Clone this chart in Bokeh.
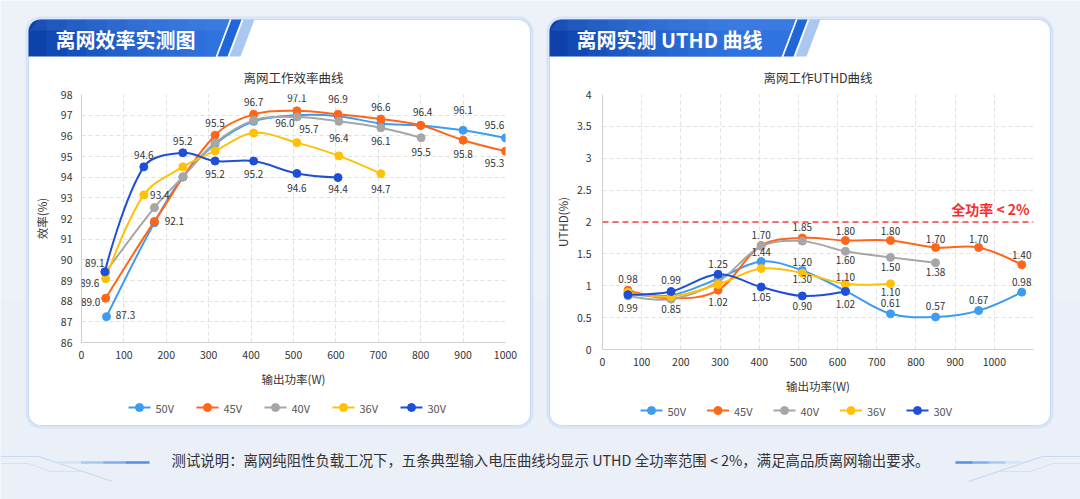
import math
from bokeh.plotting import figure
from bokeh.models import (Range1d, FixedTicker, Label, LabelSet,
                          Span, ColumnDataSource, NumeralTickFormatter)
from bokeh.embed import file_html
from bokeh.resources import INLINE
from bokeh.core.properties import value

FONT = "Noto Sans CJK SC"
BG = "#edf1f8"

SERIES = ["50V", "45V", "40V", "36V", "30V"]
COLORS = ["#3d9cf0", "#ff6619", "#a6a6a6", "#ffc107", "#1f4fd6"]

# ---------------- efficiency chart data ----------------
eff_x_50V = [59, 172, 239, 315, 406, 508, 605, 706, 800, 900, 1000]
eff_y_50V = [87.25, 91.8, 94.0, 95.6, 96.7, 97.0, 96.95, 96.6, 96.5, 96.27, 95.9]
eff_t_50V = ["87.3", "", "", "", "", "", "", "", "", "96.1", "95.6"]
eff_x_45V = [57, 172, 315, 406, 508, 605, 706, 800, 900, 1000]
eff_y_45V = [88.14, 91.86, 96.03, 97.04, 97.21, 97.04, 96.81, 96.51, 95.79, 95.26]
eff_t_45V = ["89.0", "92.1", "95.5", "96.7", "97.1", "96.9", "96.6", "96.4", "95.8", "95.3"]
eff_x_40V = [57, 172, 240, 315, 406, 508, 607, 706, 801]
eff_y_40V = [89.4, 92.53, 94.03, 95.66, 96.75, 96.91, 96.70, 96.39, 95.91]
eff_t_40V = ["", "", "", "", "", "96.0", "96.4", "96.1", "95.5"]
eff_x_36V = [57, 147, 239, 315, 406, 508, 607, 706]
eff_y_36V = [89.09, 93.14, 94.5, 95.27, 96.14, 95.67, 95.03, 94.17]
eff_t_36V = ["89.6", "93.4", "", "", "", "95.7", "", "94.7"]
eff_x_30V = [55, 147, 239, 315, 406, 508, 605]
eff_y_30V = [89.42, 94.5, 95.18, 94.78, 94.78, 94.18, 93.98]
eff_t_30V = ["89.1", "94.6", "95.2", "95.2", "95.2", "94.6", "94.4"]
eff_xticks = list(range(0, 1001, 100))
eff_yticks = list(range(86, 99))

# label placement in screen px (x right, y up) -- style only
eff_dx = {"50V": [19, 0, 0, 0, 0, 0, 0, 0, 0, 0, -11],
          "45V": [-15, 20, 0, 0, 0, 0, 0, 2, 0, -11],
          "40V": [0, 0, 0, 0, 0, -12, 0, 0, 0],
          "36V": [-16, 16, 0, 0, 0, 12, 0, 0],
          "30V": [-10, 0, 0, 0, 0, 0, 0]}
eff_dy = {"50V": [2, 0, 0, 0, 0, 0, 0, 0, 0, 20, 13],
          "45V": [-4, 0, 12, 12, 13, 15, 12, 13, -14, -12],
          "40V": [0, 0, 0, 0, 0, -6, -17, -13, -14],
          "36V": [-4, 0, 0, 0, 0, 14, 0, -15],
          "30V": [9, 12, 12, -13, -13, -15, -11]}

# ---------------- UTHD chart data ----------------
u_x_50V = [65, 175, 295, 405, 510, 620, 735, 850, 960, 1070]
u_y_50V = [0.88, 0.85, 1.11, 1.38, 1.24, 0.92, 0.56, 0.51, 0.61, 0.90]
u_t_50V = ["", "", "", "1.44", "1.20", "", "0.61", "0.57", "0.67", "0.98"]
u_x_45V = [65, 175, 295, 405, 510, 620, 735, 850, 960, 1070]
u_y_45V = [0.93, 0.80, 0.93, 1.63, 1.75, 1.71, 1.71, 1.60, 1.60, 1.33]
u_t_45V = ["0.98", "0.85", "1.02", "1.70", "1.85", "1.80", "1.80", "1.70", "1.70", "1.40"]
u_x_40V = [65, 175, 295, 405, 510, 620, 735, 850]
u_y_40V = [0.84, 0.79, 1.06, 1.62, 1.70, 1.54, 1.445, 1.36]
u_t_40V = ["", "", "", "", "", "1.60", "1.50", "1.38"]
u_x_36V = [65, 175, 295, 405, 510, 620, 735]
u_y_36V = [0.90, 0.83, 1.02, 1.27, 1.20, 1.03, 1.03]
u_t_36V = ["", "", "", "", "1.30", "1.10", "1.10"]
u_x_30V = [65, 175, 295, 405, 510, 620]
u_y_30V = [0.86, 0.91, 1.18, 0.98, 0.84, 0.91]
u_t_30V = ["0.99", "0.99", "1.25", "1.05", "0.90", "1.02"]
u_xticks = list(range(0, 1001, 100))
u_yticks = [0, 0.5, 1, 1.5, 2, 2.5, 3, 3.5, 4]
u_limit = 2.0
u_limit_text = "全功率 < 2%"

u_dy = {"50V": [0, 0, 0, 10, 8, 0, 11, 11, 11, 10],
        "45V": [11, -10, -12, 11, 11, 9, 9, 9, 9, 10],
        "40V": [0, 0, 0, 0, 0, -9, -10, -9],
        "36V": [0, 0, 0, 0, -6, 7, -8],
        "30V": [-13, 11, 10, -10, -10, -13]}

EFF = {"50V": (eff_x_50V, eff_y_50V, eff_t_50V), "45V": (eff_x_45V, eff_y_45V, eff_t_45V),
       "40V": (eff_x_40V, eff_y_40V, eff_t_40V), "36V": (eff_x_36V, eff_y_36V, eff_t_36V),
       "30V": (eff_x_30V, eff_y_30V, eff_t_30V)}
UTHD = {"50V": (u_x_50V, u_y_50V, u_t_50V), "45V": (u_x_45V, u_y_45V, u_t_45V),
        "40V": (u_x_40V, u_y_40V, u_t_40V), "36V": (u_x_36V, u_y_36V, u_t_36V),
        "30V": (u_x_30V, u_y_30V, u_t_30V)}

TITLE_L = "离网效率实测图"
TITLE_R = "离网实测 UTHD 曲线"
SUB_L = "离网工作效率曲线"
SUB_R = "离网工作UTHD曲线"
FOOTER = "测试说明：离网纯阻性负载工况下，五条典型输入电压曲线均显示 UTHD 全功率范围 < 2%，满足高品质离网输出要求。"


def smooth_segments(xs, ys, sx, sy, k=0.35):
    n = len(xs)
    co, ci = [], []
    for i in range(n):
        if i == 0 or i == n - 1:
            co.append((xs[i], ys[i])); ci.append((xs[i], ys[i])); continue
        vx = xs[i + 1] - xs[i - 1]; vy = ys[i + 1] - ys[i - 1]
        d0 = math.hypot((xs[i] - xs[i - 1]) * sx, (ys[i] - ys[i - 1]) * sy)
        d1 = math.hypot((xs[i + 1] - xs[i]) * sx, (ys[i + 1] - ys[i]) * sy)
        r = d1 / (d0 + d1)
        co.append((xs[i] + vx * k * r, ys[i] + vy * k * r))
        ci.append((xs[i] - vx * k * (1 - r), ys[i] - vy * k * (1 - r)))
    d = dict(x0=[], y0=[], x1=[], y1=[], cx0=[], cy0=[], cx1=[], cy1=[])
    for i in range(n - 1):
        d["x0"].append(xs[i]); d["y0"].append(ys[i])
        d["x1"].append(xs[i + 1]); d["y1"].append(ys[i + 1])
        d["cx0"].append(co[i][0]); d["cy0"].append(co[i][1])
        d["cx1"].append(ci[i + 1][0]); d["cy1"].append(ci[i + 1][1])
    return d


# ================= background / decoration figure (page pixel space) =================
bg = figure(width=1080, height=499, x_range=Range1d(0, 1080), y_range=Range1d(499, 0),
            output_backend="svg", toolbar_location=None, min_border=0,
            x_axis_type=None, y_axis_type=None, background_fill_color=BG,
            border_fill_color=BG, outline_line_color=None)
bg.grid.visible = False
bg.styles = {"position": "absolute", "left": "0px", "top": "0px"}


def rrect(l, t, r, b, rad, n=8):
    xs, ys = [], []
    corners = [(r - rad, t + rad, 270, 360), (r - rad, b - rad, 0, 90),
               (l + rad, b - rad, 90, 180), (l + rad, t + rad, 180, 270)]
    for cx, cyy, a0, a1 in corners:
        for j in range(n + 1):
            a = math.radians(a0 + (a1 - a0) * j / n)
            xs.append(cx + rad * math.cos(a)); ys.append(cyy + rad * math.sin(a))
    return xs, ys


bg.patch([0, 1080, 1080, 0], [300, 300, 499, 499], fill_color="#e8eef8", fill_alpha=0.6, line_alpha=0)

for (cl, cr, tab_tr, ttext, tx) in [(28, 530, 229, TITLE_L, 55), (549, 1050, 795, TITLE_R, 576)]:
    top, bot = 19, 425
    gx, gy = rrect(cl - 2, top - 2, cr + 2, bot + 2, 14)
    bg.patch(gx, gy, fill_color="#dfe9f8", fill_alpha=0.7, line_color="#d6e4f7", line_width=2)
    cx_, cy_ = rrect(cl, top, cr, bot, 12)
    bg.patch(cx_, cy_, fill_color="white", line_color="#c6d9f3", line_width=1.2)
    tbot, rr = 56, 12
    tbr = tab_tr - 14
    xs, ys = [], []
    for j in range(10):
        a = math.radians(180 + 90 * j / 9)
        xs.append(cl + rr + rr * math.cos(a)); ys.append(top + rr + rr * math.sin(a))
    xs += [tab_tr, tbr, cl]; ys += [top, tbot, tbot]
    bg.patch(xs, ys, fill_color="#0c42aa", line_alpha=0)
    for kk in range(9):
        xl = cl + 18 + kk * 20
        bg.patch([xl, tab_tr, tbr, xl], [top, top, tbot, tbot], fill_color="#4a95ff",
                 fill_alpha=0.11, line_alpha=0)
    bg.patch([cl + 10, tab_tr, tab_tr - 4, cl + 1], [top, top, top + 11, top + 11],
             fill_color="#7ab2ff", fill_alpha=0.14, line_alpha=0)
    bg.patch([tab_tr + 2, tab_tr + 12, tbr + 12, tbr + 2], [top, top, tbot, tbot],
             fill_color="#1f66d8", line_alpha=0)
    bg.patch([tab_tr + 14, tab_tr + 25, tbr + 25, tbr + 14], [top, top, tbot, tbot],
             fill_color="#a9c8f1", line_alpha=0)
    bg.text(x=[tx], y=[39], text=[ttext], text_font=value(FONT), text_font_size="20px",
            text_font_style="bold", text_color="white", text_baseline="middle",
            text_align="left")

# legends (key, drawn under each chart)
for (lx0, ly, step) in [(128, 407, 68), (640, 410, 66.5)]:
    for i, (name, color) in enumerate(zip(SERIES, COLORS)):
        x0 = lx0 + i * step
        bg.line([x0, x0 + 22], [ly, ly], line_color=color, line_width=2)
        bg.scatter([x0 + 11], [ly], size=8, marker="circle", fill_color=color, line_color=color)
        bg.text(x=[x0 + 27], y=[ly], text=[name], text_font=value(FONT),
                text_font_size="11px", text_color="#555555", text_baseline="middle",
                text_align="left")

# footer decorations
bg.line([0, 38, 112], [456, 456, 481], line_color="#c9d8ef", line_width=1.2)
bg.line([0, 28, 50, 80], [463, 463, 471, 471], line_color="#d6e1f2", line_width=1)
bg.line([1080, 1042, 968], [456, 456, 481], line_color="#c9d8ef", line_width=1.2)
bg.line([1080, 1052, 1030, 1000], [463, 463, 471, 471], line_color="#d6e1f2", line_width=1)
for i, c in enumerate(["#d4e3f8", "#a9c9f3", "#7eaeee", "#4f8fe8"]):
    bg.line([58 + i * 22.5, 58 + (i + 1) * 22.5 + 1], [462, 462], line_color=c, line_width=2.5)
for i, c in enumerate(["#4f8fe8", "#7eaeee", "#a9c9f3", "#d4e3f8"]):
    bg.line([955 + i * 16.5, 955 + (i + 1) * 16.5 + 1], [462, 462], line_color=c, line_width=2.5)
bg.text(x=[550], y=[459], text=[FOOTER], text_font=value(FONT), text_font_size="14.4px",
        text_color="#333333", text_align="center", text_baseline="middle")


# ================= chart figures =================
def style_chart(p, title, ylabel, xlabel, ylab_standoff):
    p.title.text = title
    p.title.align = "center"
    p.title.text_font = FONT
    p.title.text_font_size = "12.5px"
    p.title.text_font_style = "normal"
    p.title.text_color = "#333333"
    p.title.standoff = 16
    for ax in (p.xaxis, p.yaxis):
        ax.axis_line_color = "#cfcfcf"
        ax.major_tick_line_color = None
        ax.minor_tick_line_color = None
        ax.major_tick_out = 0
        ax.major_tick_in = 0
        ax.major_label_text_font = FONT
        ax.major_label_text_font_size = "10.5px"
        ax.major_label_text_color = "#333333"
        ax.axis_label_text_font = FONT
        ax.axis_label_text_font_size = "11.5px"
        ax.axis_label_text_font_style = "normal"
        ax.axis_label_text_color = "#333333"
    p.xaxis.axis_label = xlabel
    p.yaxis.axis_label = ylabel
    p.xaxis.major_label_standoff = 8
    p.xaxis.axis_label_standoff = 9
    p.yaxis.major_label_standoff = 9
    p.yaxis.axis_label_standoff = ylab_standoff
    for g in (p.xgrid, p.ygrid):
        g.grid_line_color = "#e1e1e1"
        g.grid_line_dash = "4 3"
        g.grid_line_width = 1


def add_series(p, data, sx, sy, dxmap, dymap, fsize):
    for name, color in zip(SERIES, COLORS):
        xs, ys, ts = data[name]
        src = ColumnDataSource(smooth_segments(xs, ys, sx, sy))
        p.bezier(x0="x0", y0="y0", x1="x1", y1="y1", cx0="cx0", cy0="cy0",
                 cx1="cx1", cy1="cy1", source=src, line_color=color, line_width=2)
        p.scatter(xs, ys, size=8, marker="circle", fill_color=color, line_color=color)
    for name in SERIES:
        xs, ys, ts = data[name]
        dx = dxmap[name] if dxmap else [0] * len(xs)
        dy = dymap[name]
        keep = [i for i, t in enumerate(ts) if t]
        lsrc = ColumnDataSource(dict(x=[xs[i] for i in keep], y=[ys[i] for i in keep],
                                     t=[ts[i] for i in keep], dx=[dx[i] for i in keep],
                                     dy=[dy[i] for i in keep]))
        p.add_layout(LabelSet(x="x", y="y", text="t", x_offset="dx", y_offset="dy",
                              source=lsrc, text_align="center", text_baseline="middle",
                              text_font=value(FONT), text_font_size=fsize,
                              text_color="#333333"))


pL = figure(width=498, height=338, x_range=Range1d(0, 1000), y_range=Range1d(86, 98),
            output_backend="svg", toolbar_location=None,
            min_border_left=47, min_border_right=23, min_border_top=35, min_border_bottom=53,
            background_fill_color="white", border_fill_color="white", outline_line_color=None)
pL.styles = {"position": "absolute", "left": "30px", "top": "57px"}
style_chart(pL, SUB_L, "效率(%)", "输出功率(W)", 8)
pL.xaxis.ticker = FixedTicker(ticks=eff_xticks)
pL.yaxis.ticker = FixedTicker(ticks=eff_yticks)
pL.xgrid.ticker = FixedTicker(ticks=eff_xticks)
pL.ygrid.ticker = FixedTicker(ticks=eff_yticks)
add_series(pL, EFF, 0.428, 20.8, eff_dx, eff_dy, "10px")

pR = figure(width=497, height=340, x_range=Range1d(0, 1100), y_range=Range1d(0, 4),
            output_backend="svg", toolbar_location=None,
            min_border_left=48, min_border_right=15, min_border_top=36, min_border_bottom=48,
            background_fill_color="white", border_fill_color="white", outline_line_color=None)
pR.styles = {"position": "absolute", "left": "551px", "top": "57px"}
style_chart(pR, SUB_R, "UTHD(%)", "输出功率(W)", 3)
pR.xaxis.ticker = FixedTicker(ticks=u_xticks)
pR.yaxis.ticker = FixedTicker(ticks=u_yticks)
pR.yaxis.formatter = NumeralTickFormatter(format="0.[0]")
pR.xgrid.ticker = FixedTicker(ticks=u_xticks + [1100])
pR.ygrid.ticker = FixedTicker(ticks=u_yticks)
pR.yaxis.major_label_standoff = 11
pR.add_layout(Span(location=u_limit, dimension="width", line_color="#ff3b3b",
                   line_dash="6 4", line_width=1.6))
pR.add_layout(Label(x=1090, y=u_limit + 0.21, text=u_limit_text, text_font=FONT,
                    text_font_size="14px", text_font_style="bold", text_color="#f42f2f",
                    text_align="right", text_baseline="middle"))
add_series(pR, UTHD, 0.394, 64.0, None, u_dy, "10px")

open("out.html", "w").write(file_html([bg, pL, pR], INLINE))
